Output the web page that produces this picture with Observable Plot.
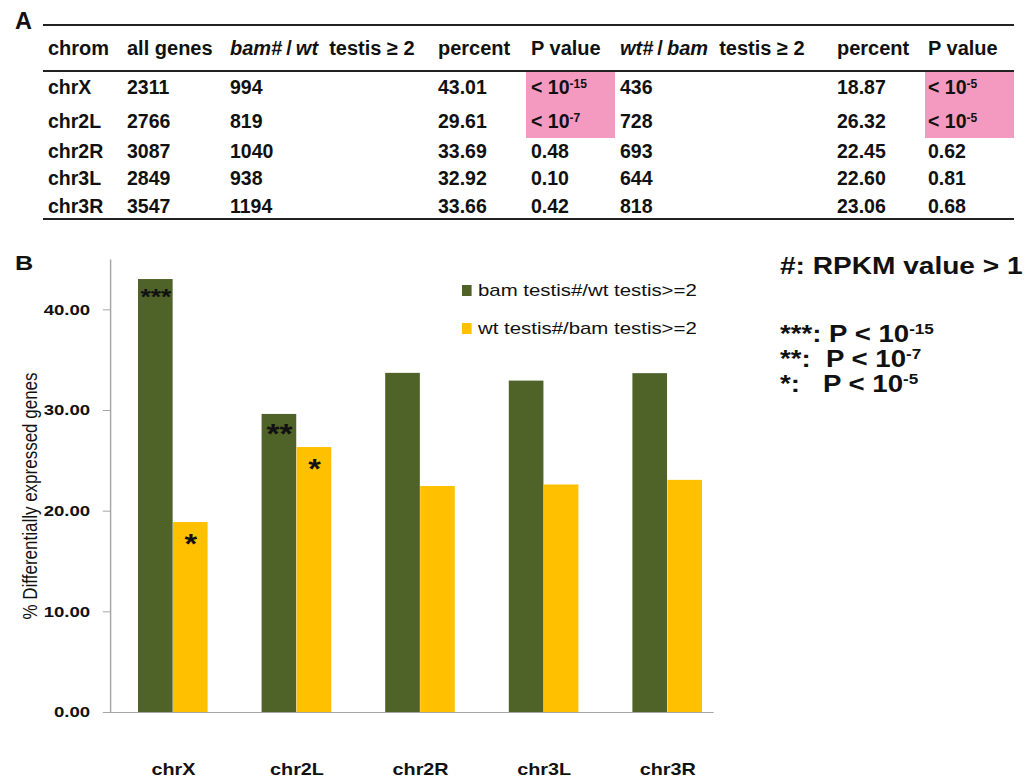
<!DOCTYPE html>
<html><head><meta charset="utf-8">
<script src="https://cdn.jsdelivr.net/npm/d3@7"></script>
<script src="https://cdn.jsdelivr.net/npm/@observablehq/plot@0.6"></script>
<style>
body{margin:0;background:#fff;font-family:"Liberation Sans",Arial,sans-serif;color:#111;}
#page{position:relative;width:1029px;height:781px;overflow:hidden;background:#fff;}
.abs{position:absolute;white-space:pre;line-height:1;}
.rule{position:absolute;height:2px;background:#222;}
.pink{position:absolute;background:#f49ac1;}
sup{font-size:0.62em;position:relative;top:-0.55em;vertical-align:baseline;line-height:0;}
#chartB{position:absolute;left:0;top:230px;width:858px;height:551px;transform:scaleX(1.2);transform-origin:0 0;}
#chartB svg{position:absolute;left:0;top:0;}
#chartB g[aria-label="y-axis tick label"] text, #chartB g[aria-label="x-axis tick label"] text{font-weight:bold;}
</style></head><body><div id="page"></div>
<script>
// ---------- data ----------
const chroms = ["chrX", "chr2L", "chr2R", "chr3L", "chr3R"];
const allGenes = [2311, 2766, 3087, 2849, 3547];
const bamUp = [994, 819, 1040, 938, 1194];
const bamPercent = [43.01, 29.61, 33.69, 32.92, 33.66];
const bamP = ["<-15", "<-7", "0.48", "0.10", "0.42"];
const wtUp = [436, 728, 693, 644, 818];
const wtPercent = [18.87, 26.32, 22.45, 22.60, 23.06];
const wtP = ["<-5", "<-5", "0.62", "0.81", "0.68"];
const seriesNames = ["bam testis#/wt testis>=2", "wt testis#/bam testis>=2"];
const bamStars = ["***", "**", "", "", ""];
const wtStars = ["*", "*", "", "", ""];
const yTicks = [0, 10, 20, 30, 40];
const headers = ["chrom", "all genes", "<i>bam#</i>\u2009/\u2009<i>wt</i>  testis ≥ 2", "percent", "P value",
                 "<i>wt#</i>\u2009/\u2009<i>bam</i>  testis ≥ 2", "percent", "P value"];
const notes = ["***: P < 10<sup>-15</sup>", "**:  P < 10<sup>-7</sup>", "*:   P < 10<sup>-5</sup>"];

// ---------- table A ----------
const page = document.getElementById("page");
function add(html, cls, style) {
  const d = document.createElement("div");
  d.className = cls; d.innerHTML = html; Object.assign(d.style, style); page.appendChild(d); return d;
}
function pText(p) { return p.startsWith("<") ? "< 10<sup>" + p.slice(1) + "</sup>" : p; }
const colX = [48, 127, 230, 438, 531, 620, 837, 928];
const rowY = [88, 122, 152, 179, 207];
add("A", "abs", {left: "15px", top: "10px", fontSize: "23.5px", fontWeight: "bold"});
add("", "rule", {left: "43px", width: "971px", top: "24px"});
add("", "rule", {left: "43px", width: "971px", top: "70px"});
add("", "rule", {left: "43px", width: "971px", top: "218px"});
// highlight cells with significant P
const rowEdge = i => i === 0 ? 72 : (rowY[i - 1] + rowY[i]) / 2;
[[bamP, 526], [wtP, 925]].forEach(([ps, x]) => {
  ps.forEach((p, i) => {
    if (p.startsWith("<")) {
      const top = rowEdge(i), bot = rowEdge(i + 1);
      add("", "pink", {left: x + "px", width: "89px", top: top + "px", height: (bot - top + 0.5) + "px"});
    }
  });
});
headers.forEach((h, j) => add(h, "abs", {left: colX[j] + "px", top: (48 - 0.49 * 20) + "px", fontSize: "20px", fontWeight: "bold"}));
chroms.forEach((c, i) => {
  const cells = [c, allGenes[i], bamUp[i], bamPercent[i].toFixed(2), pText(bamP[i]), wtUp[i], wtPercent[i].toFixed(2), pText(wtP[i])];
  cells.forEach((v, j) => add(String(v), "abs", {left: colX[j] + "px", top: (rowY[i] - 0.49 * 19.5) + "px", fontSize: "19.5px", fontWeight: "bold"}));
});

// ---------- chart B (drawn in an un-stretched space, then stretched horizontally) ----------
const s = 1.2;
const W = 858;
const box = document.createElement("div"); box.id = "chartB"; page.appendChild(box);
const bamData = chroms.map((c, i) => ({chrom: c, value: bamPercent[i], stars: bamStars[i]}));
const wtData = chroms.map((c, i) => ({chrom: c, value: wtPercent[i], stars: wtStars[i]}));
const pin = 0.437, pout = pin / 2;
const xr = [110 / s, 731 / s];
const bw = (xr[1] - xr[0]) / chroms.length * (1 - pin);
const mL = 110 / s, mR = W - 713 / s, mT = 29, mB = 69;
const fw = W - mL - mR, fh = 551 - mT - mB;
const chart = Plot.plot({
  width: W, height: 551,
  marginLeft: mL, marginRight: mR, marginTop: mT, marginBottom: mB,
  style: {fontFamily: "Liberation Sans, Arial, sans-serif", background: "transparent", color: "#111", overflow: "visible"},
  x: {domain: chroms, range: xr, paddingInner: pin, paddingOuter: pout, label: null},
  y: {domain: [0, 45], label: null},
  marks: [
    Plot.barY(bamData, {x: "chrom", y: "value", fill: "#4f6228", insetRight: bw / 2}),
    Plot.barY(wtData, {x: "chrom", y: "value", fill: "#ffc000", insetLeft: bw / 2}),
    Plot.frame({stroke: "#a6a6a6", strokeWidth: 1.2, fill: "none", strokeDasharray: `0,${fw + fh},${fw + fh + 20}`}),
    Plot.text(bamData.filter(d => d.stars), {x: "chrom", y: "value", text: "stars", dx: -bw / 4, dy: 9, lineAnchor: "top",
      fontSize: d => d.stars.length === 3 ? 22 : 28, fontWeight: "bold", fill: "#111"}),
    Plot.text(wtData.filter(d => d.stars), {x: "chrom", y: "value", text: "stars", dx: bw / 4, dy: 11, lineAnchor: "top",
      fontSize: 27, fontWeight: "bold", fill: "#111"}),
    Plot.axisY(yTicks, {tickFormat: d3.format(".2f"), tickSize: 6, tickPadding: 11, fontSize: 15.5, fontWeight: "bold", stroke: "#a6a6a6", fill: "#111"}),
    Plot.axisX({tickSize: 0, tickPadding: 51, fontSize: 16.5, fontWeight: "bold", fill: "#111"}),
    Plot.text(["% Differentially expressed genes"], {frameAnchor: "left", textAnchor: "middle", lineAnchor: "middle", rotate: -90,
      dx: 25 - mL, dy: 10, fontSize: 17, fill: "#111"})
  ]
});
box.appendChild(chart);
function addB(html, style) {
  const d = document.createElement("div"); d.className = "abs"; d.innerHTML = html; Object.assign(d.style, style); box.appendChild(d); return d;
}
addB("B", {left: "12.5px", top: "22.3px", fontSize: "21px", fontWeight: "bold"});
const legendColors = ["#4f6228", "#ffc000"];
const legY = [60, 98];
seriesNames.forEach((n, i) => {
  addB("", {left: "385px", top: (legY[i] - 5.5) + "px", width: "8.3px", height: "11px", background: legendColors[i]});
  addB(n, {left: "398.3px", top: (legY[i] - 0.49 * 17) + "px", fontSize: "17px"});
});
addB("#: RPKM value > 1", {left: "650px", top: (36 - 0.49 * 23.4) + "px", fontSize: "23.4px", fontWeight: "bold"});
const noteY = [104, 129, 154];
notes.forEach((n, i) => addB(n, {left: "650px", top: (noteY[i] - 0.49 * 23) + "px", fontSize: "23px", fontWeight: "bold"}));
</script></body></html>
